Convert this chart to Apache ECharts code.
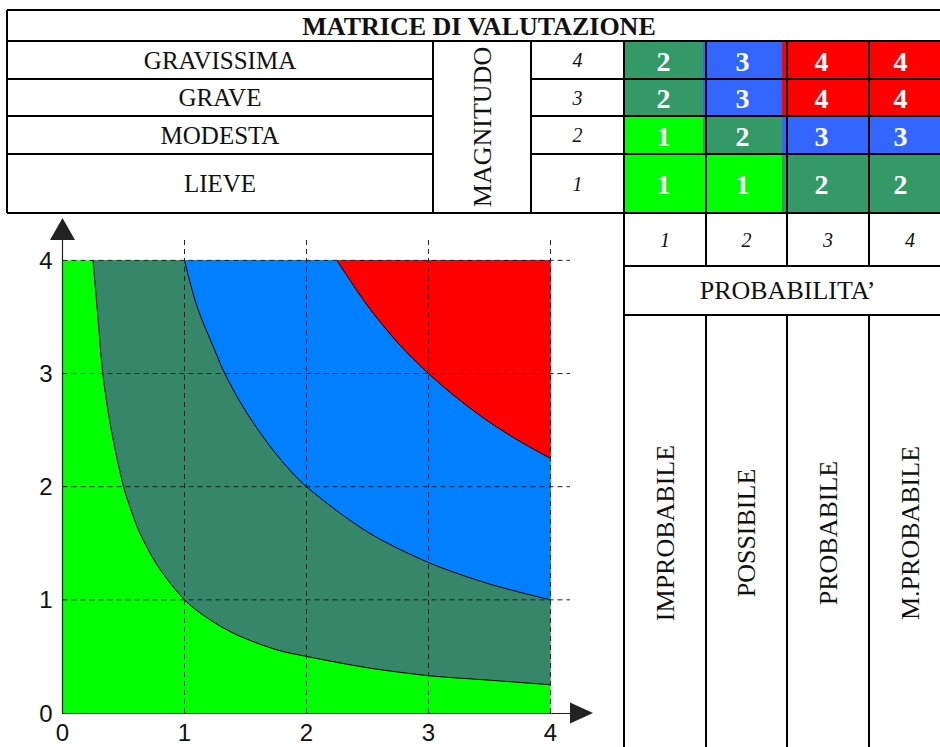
<!DOCTYPE html>
<html><head><meta charset="utf-8">
<script src="https://cdn.jsdelivr.net/npm/echarts@6/dist/echarts.min.js"></script>
<style>html,body{margin:0;padding:0;background:#fff}#c{width:940px;height:747px}</style>
</head><body><div id="c"></div>
<script>
// ================= DATA =================
const TITLE = 'MATRICE DI VALUTAZIONE';
const MAG_TITLE = 'MAGNITUDO';
const MAG_LABELS = ['GRAVISSIMA', 'GRAVE', 'MODESTA', 'LIEVE'];
const MAG_LEVELS = [4, 3, 2, 1];
const PROB_TITLE = 'PROBABILITA\u2019';
const PROB_LEVELS = [1, 2, 3, 4];
const PROB_LABELS = ['IMPROBABILE', 'POSSIBILE', 'PROBABILE', 'M.PROBABILE'];
// risk value per magnitude row (4,3,2,1) and probability column (1..4)
const RISK = [
  [2, 3, 4, 4],
  [2, 3, 4, 4],
  [1, 2, 3, 3],
  [1, 1, 2, 2]
];
// graph
const AXIS_TICKS = [0, 1, 2, 3, 4];
const GRID_TICKS = [1, 2, 3, 4];
const ZONE_FULL = [[0, 4], [4, 4]];
const BOUNDARY_1 = [[0.25, 4], [0.29, 3.5], [0.33, 3], [0.4, 2.5], [0.5, 2], [0.56, 1.8], [0.63, 1.6], [0.78, 1.3],
  [1, 1], [1.2, 0.83], [1.43, 0.69], [1.75, 0.56], [2, 0.5], [2.5, 0.4], [3, 0.33], [3.5, 0.29], [4, 0.25]];
const BOUNDARY_2 = [[1, 4], [1.1, 3.6], [1.25, 3.2], [1.33, 3], [1.5, 2.67], [1.75, 2.29], [2, 2], [2.5, 1.6],
  [3, 1.33], [3.5, 1.14], [4, 1]];
const BOUNDARY_3 = [[2.25, 4], [2.5, 3.6], [2.75, 3.27], [3, 3], [3.25, 2.77], [3.5, 2.57], [3.75, 2.4], [4, 2.25]];

// ================= STYLE / LAYOUT =================
const CELL_COLORS = {1: '#00FF00', 2: '#339966', 3: '#3366FF', 4: '#FF0000'};
const ZONE_COLORS = ['#00FF00', '#36876A', '#0080FF', '#FF0000'];
const SERIF = '"Liberation Serif", "Times New Roman", serif';
const SANS = '"Liberation Sans", Arial, sans-serif';
const X_MAX = 4.16, Y_MAX = 4.18;
const TBL = {
  left: 7, top: 10, titleBottom: 41, right: 951,
  rowEdges: [41, 79, 116, 154, 213],          // pixel edges of magnitude rows (top->bottom)
  colLabelRight: 433, colMagRight: 531, colNumRight: 624,
  cellCols: [624, 706, 787, 869, 951],
  probNumBottom: 266, probTitleBottom: 315, bottom: 747
};
// row edges in cell-grid units (from bottom, magnitude 1..4)
const CELL_ROW_UNITS = [0, 59, 97, 134, 172];

const LW = 2;
const g = [];
function line(x1, y1, x2, y2) {
  g.push({type: 'line', z: 100, shape: {x1, y1, x2, y2}, style: {stroke: '#000', lineWidth: LW}});
}
function text(t, x, y, opt) {
  opt = opt || {};
  g.push({type: 'text', z: 110, x, y, rotation: opt.rot || 0,
    style: {text: t, x: 0, y: 0, fill: opt.fill || '#111', align: 'center', verticalAlign: 'middle',
      fontFamily: SERIF, fontSize: opt.size || 24, fontWeight: opt.weight || 'normal', fontStyle: opt.style || 'normal'}});
}
// top table lines
line(TBL.left, TBL.top, TBL.right, TBL.top);
line(TBL.left, TBL.titleBottom, TBL.right, TBL.titleBottom);
for (let i = 1; i < TBL.rowEdges.length - 1; i++) {
  line(TBL.left, TBL.rowEdges[i], TBL.colLabelRight, TBL.rowEdges[i]);
  line(TBL.colMagRight, TBL.rowEdges[i], TBL.right, TBL.rowEdges[i]);
}
line(TBL.left, TBL.rowEdges[4], TBL.right, TBL.rowEdges[4]);
line(TBL.left, TBL.top, TBL.left, TBL.rowEdges[4]);
line(TBL.colLabelRight, TBL.titleBottom, TBL.colLabelRight, TBL.rowEdges[4]);
line(TBL.colMagRight, TBL.titleBottom, TBL.colMagRight, TBL.rowEdges[4]);
line(TBL.colNumRight, TBL.titleBottom, TBL.colNumRight, TBL.bottom);
for (let j = 1; j < 4; j++) {
  line(TBL.cellCols[j], TBL.titleBottom, TBL.cellCols[j], TBL.probNumBottom);
  line(TBL.cellCols[j], TBL.probTitleBottom, TBL.cellCols[j], TBL.bottom);
}
line(TBL.colNumRight, TBL.probNumBottom, TBL.right, TBL.probNumBottom);
line(TBL.colNumRight, TBL.probTitleBottom, TBL.right, TBL.probTitleBottom);

// texts
text(TITLE, 479, 26, {weight: 'bold', size: 26});
MAG_LABELS.forEach((t, i) => {
  const yc = (TBL.rowEdges[i] + TBL.rowEdges[i + 1]) / 2;
  text(t, (TBL.left + TBL.colLabelRight) / 2, yc, {size: 25});
  text(String(MAG_LEVELS[i]), (TBL.colMagRight + TBL.colNumRight) / 2, yc, {size: 20, style: 'italic'});
});
text(MAG_TITLE, (TBL.colLabelRight + TBL.colMagRight) / 2, (TBL.rowEdges[0] + TBL.rowEdges[4]) / 2, {size: 26, rot: Math.PI / 2});
PROB_LEVELS.forEach((p, j) => {
  const xc = (TBL.cellCols[j] + TBL.cellCols[j + 1]) / 2;
  text(String(p), xc, (TBL.rowEdges[4] + TBL.probNumBottom) / 2, {size: 20, style: 'italic'});
  text(PROB_LABELS[j], xc, 533, {size: 26, rot: Math.PI / 2});
});
text(PROB_TITLE, (TBL.cellCols[0] + TBL.cellCols[4]) / 2, (TBL.probNumBottom + TBL.probTitleBottom) / 2, {size: 26});

// cell data
const cellData = [];
RISK.forEach((row, i) => row.forEach((v, j) => cellData.push([j, MAG_LEVELS[i], v])));

const chart = echarts.init(document.getElementById('c'), null, {renderer: 'svg'});
const intFmt = v => (Math.abs(v - Math.round(v)) < 1e-9 && AXIS_TICKS.indexOf(Math.round(v)) >= 0) ? String(Math.round(v)) : '';

function areaSeries(data, color, origin, z, stroke) {
  return {
    type: 'line', xAxisIndex: 0, yAxisIndex: 0, data, z, symbol: 'none', showSymbol: false,
    smooth: 0.3, animation: false,
    lineStyle: {color: '#000', width: stroke ? 1 : 0, opacity: stroke ? 1 : 0},
    areaStyle: {color, opacity: 1, origin}
  };
}

chart.setOption({
  animation: false,
  backgroundColor: '#fff',
  grid: [
    {left: 62.5, top: 240, width: 507.5, height: 473},
    {left: TBL.cellCols[0], top: TBL.rowEdges[0], width: TBL.cellCols[4] - TBL.cellCols[0], height: TBL.rowEdges[4] - TBL.rowEdges[0]}
  ],
  xAxis: [
    {gridIndex: 0, type: 'value', min: 0, max: X_MAX, interval: 1, z: 10,
      axisLine: {show: true, onZero: false, lineStyle: {color: '#222', width: 1},
        symbol: ['none', 'triangle'], symbolSize: [21, 23], symbolOffset: [0, 11.5]},
      axisTick: {show: false}, splitLine: {show: false},
      axisLabel: {fontFamily: SANS, fontSize: 24, color: '#111', margin: 7, showMaxLabel: false, formatter: intFmt}},
    {gridIndex: 1, type: 'value', min: 0, max: 4, show: false}
  ],
  yAxis: [
    {gridIndex: 0, type: 'value', min: 0, max: Y_MAX, interval: 1, z: 10,
      axisLine: {show: true, onZero: false, lineStyle: {color: '#222', width: 1.2},
        symbol: ['none', 'triangle'], symbolSize: [25, 22], symbolOffset: [0, 11]},
      axisTick: {show: false}, splitLine: {show: false},
      axisLabel: {fontFamily: SANS, fontSize: 24, color: '#111', margin: 10, showMaxLabel: false, formatter: intFmt}},
    {gridIndex: 1, type: 'value', min: 0, max: CELL_ROW_UNITS[4], show: false}
  ],
  graphic: g,
  series: [
    areaSeries(ZONE_FULL, ZONE_COLORS[0], 0, 2, false),
    areaSeries(BOUNDARY_1, ZONE_COLORS[1], 4, 3, true),
    areaSeries(BOUNDARY_2, ZONE_COLORS[2], 4, 4, true),
    areaSeries(BOUNDARY_3, ZONE_COLORS[3], 4, 5, true),
    {
      type: 'custom', xAxisIndex: 0, yAxisIndex: 0, z: 8, data: GRID_TICKS.map(t => [t, 0]),
      renderItem: (params, api) => {
        const t = api.value(0);
        const a = api.coord([t, 0]), b = api.coord([t, Y_MAX]);
        return {type: 'line', shape: {x1: a[0], y1: a[1], x2: b[0], y2: b[1]},
          style: {stroke: '#222', lineWidth: 1, lineDash: [5, 4]}};
      }
    },
    {
      type: 'custom', xAxisIndex: 0, yAxisIndex: 0, z: 8, data: GRID_TICKS.map(t => [0, t]),
      renderItem: (params, api) => {
        const t = api.value(1);
        const a = api.coord([0, t]), b = api.coord([X_MAX, t]);
        return {type: 'line', shape: {x1: a[0], y1: a[1], x2: b[0], y2: b[1]},
          style: {stroke: '#222', lineWidth: 1, lineDash: [5, 4]}};
      }
    },
    {
      type: 'custom', xAxisIndex: 1, yAxisIndex: 1, z: 5, data: cellData,
      renderItem: (params, api) => {
        const col = api.value(0), mag = api.value(1), v = api.value(2);
        const p1 = api.coord([col, CELL_ROW_UNITS[mag]]);
        const p2 = api.coord([col + 1, CELL_ROW_UNITS[mag - 1]]);
        return {type: 'group', children: [
          {type: 'rect', shape: {x: p1[0], y: p1[1], width: p2[0] - p1[0], height: p2[1] - p1[1]},
            style: {fill: CELL_COLORS[v]}},
          {type: 'text', style: {text: String(v), x: (p1[0] + p2[0]) / 2, y: (p1[1] + p2[1]) / 2 + 1,
            align: 'center', verticalAlign: 'middle', fill: '#fff', fontFamily: SERIF, fontSize: 28, fontWeight: 'bold'}}
        ]};
      }
    }
  ]
});
</script></body></html>
